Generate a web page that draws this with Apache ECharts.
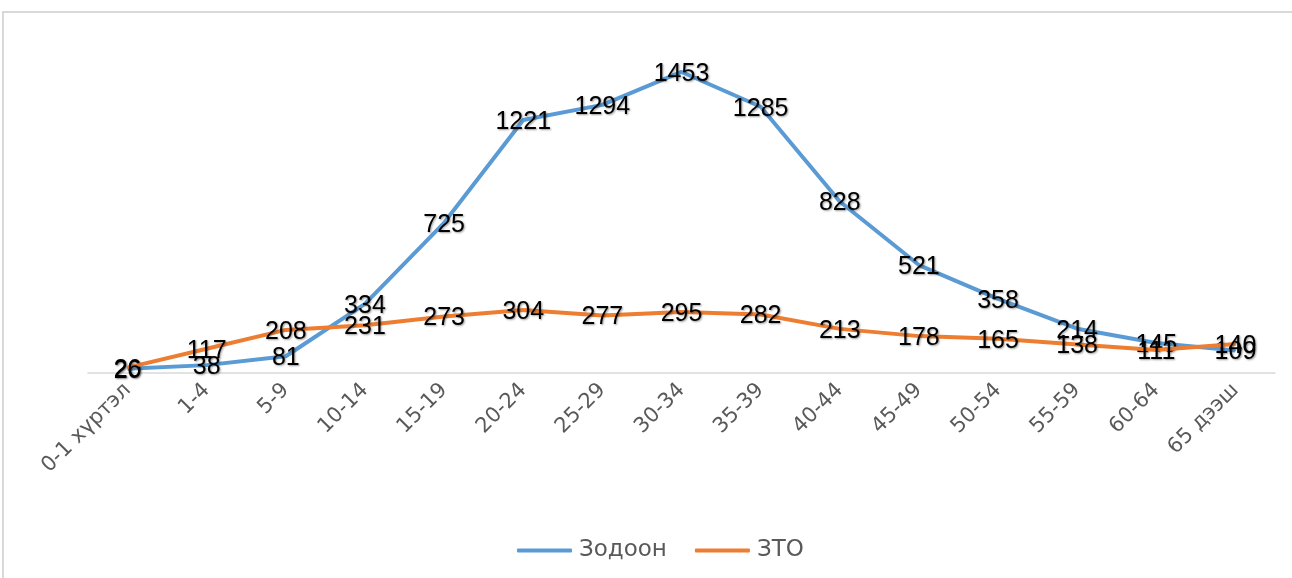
<!DOCTYPE html>
<html>
<head>
<meta charset="utf-8">
<script src="https://cdn.jsdelivr.net/npm/echarts@6/dist/echarts.min.js"></script>
<style>
  html, body { margin: 0; padding: 0; background: #fff; }
  #chart { width: 1292px; height: 578px; }
</style>
</head>
<body>
<div id="chart"></div>
<script>
// Age groups
const ageGroups = ['0-1 хүртэл', '1-4', '5-9', '10-14', '15-19', '20-24', '25-29',
  '30-34', '35-39', '40-44', '45-49', '50-54', '55-59', '60-64', '65 дээш'];
// Cases per age group
const zodoon = [20, 38, 81, 334, 725, 1221, 1294, 1453, 1285, 828, 521, 358, 214, 145, 109];
const zto = [26, 117, 208, 231, 273, 304, 277, 295, 282, 213, 178, 165, 138, 111, 140];

const SANS = 'Liberation Sans, Arial, sans-serif';
const WIDE = 'DejaVu Sans, Liberation Sans, Arial, sans-serif';

const chart = echarts.init(document.getElementById('chart'));

// value labels sit centred on each point
const valueLabel = {
  show: true,
  position: 'inside',
  offset: [0, 2],
  color: '#000',
  fontFamily: SANS,
  fontSize: 25,
  textShadowColor: 'rgba(0,0,0,0.4)',
  textShadowBlur: 2,
  textShadowOffsetX: 1,
  textShadowOffsetY: 1
};

chart.setOption({
  animation: false,
  backgroundColor: '#fff',
  graphic: [{
    type: 'rect',
    shape: { x: 3, y: 12, width: 1300, height: 580 },
    style: { fill: 'none', stroke: '#d9d9d9', lineWidth: 2 },
    silent: true,
    z: -1
  }],
  grid: { left: 88, right: 17, top: 41.5, bottom: 205 },
  legend: {
    top: 534,
    left: 512,
    itemWidth: 55,
    itemHeight: 4,
    itemGap: 28,
    icon: 'roundRect',
    textStyle: { color: '#595959', fontSize: 23, fontFamily: WIDE, padding: [0, 0, 0, 2] },
    data: ['Зодоон', 'ЗТО']
  },
  xAxis: {
    type: 'category',
    data: ageGroups,
    boundaryGap: true,
    axisLine: { lineStyle: { color: '#d9d9d9', width: 1.5 } },
    axisTick: { show: false },
    axisLabel: {
      rotate: 45,
      interval: 0,
      margin: 14,
      color: '#595959',
      fontSize: 21,
      fontFamily: WIDE
    }
  },
  yAxis: {
    type: 'value',
    min: 0,
    max: 1600,
    show: false,
    splitLine: { show: false }
  },
  series: [
    {
      name: 'Зодоон',
      type: 'line',
      data: zodoon,
      symbol: 'circle',
      symbolSize: 1,
      color: '#5B9BD5',
      itemStyle: { color: '#5B9BD5' },
      lineStyle: { width: 4, color: '#5B9BD5' },
      label: valueLabel,
      z: 2
    },
    {
      name: 'ЗТО',
      type: 'line',
      data: zto,
      symbol: 'circle',
      symbolSize: 1,
      color: '#ED7D31',
      itemStyle: { color: '#ED7D31' },
      lineStyle: { width: 4, color: '#ED7D31' },
      label: valueLabel,
      z: 3
    }
  ]
});
</script>
</body>
</html>
